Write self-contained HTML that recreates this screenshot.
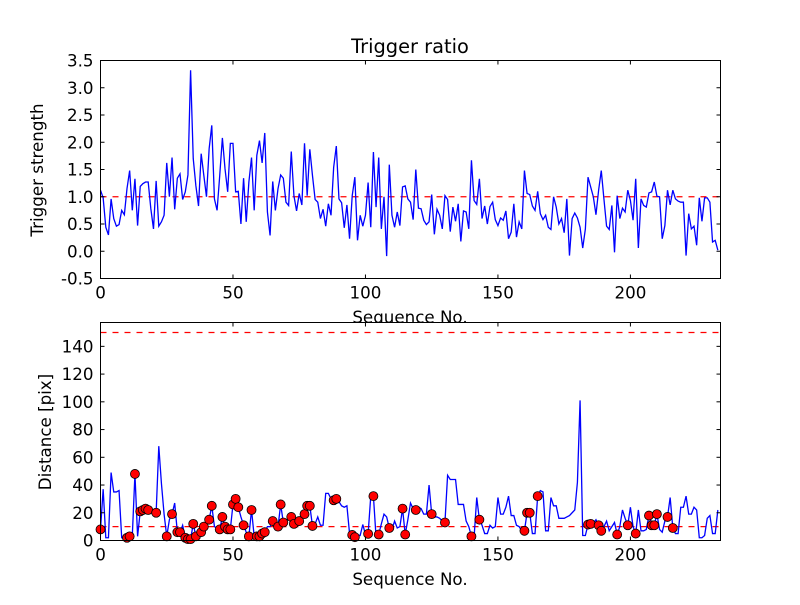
<!DOCTYPE html>
<html><head><meta charset="utf-8"><style>
body{margin:0;background:#fff;}
svg text{font-family:"DejaVu Sans","Liberation Sans",sans-serif;}
</style></head><body>
<svg id="chart" width="800" height="600" xmlns="http://www.w3.org/2000/svg"></svg>
<script>
const triggerStrength=[1.12,0.98,0.44,0.3,0.96,0.6,0.46,0.49,0.75,0.67,1.15,1.48,0.75,1.33,0.47,1.19,1.24,1.27,1.27,0.78,0.41,1.29,0.46,0.54,0.66,1.62,1.0,1.72,0.77,1.34,1.42,0.95,1.09,1.4,3.32,1.7,1.2,0.83,1.79,1.39,1.0,1.88,2.31,0.96,0.75,1.39,2.08,1.51,1.09,1.98,1.98,1.09,1.1,0.5,1.34,0.54,1.27,1.72,0.75,1.76,2.03,1.62,2.17,0.72,0.29,1.28,0.75,1.15,1.4,1.34,0.9,0.84,1.83,1.02,0.74,1.06,0.85,1.98,1.02,1.87,1.39,0.95,0.9,0.6,0.77,0.46,0.87,0.66,1.54,1.93,0.96,0.89,0.43,0.85,0.23,1.02,1.36,0.2,0.66,0.46,0.66,1.26,0.44,1.82,0.81,1.72,0.41,1.0,-0.09,1.59,0.66,0.44,0.72,0.47,1.18,1.2,0.96,0.9,0.58,1.5,0.79,0.78,0.57,0.49,0.54,1.04,0.31,0.77,0.66,0.41,1.02,0.95,0.36,0.81,0.55,0.87,0.18,0.74,0.72,0.41,1.67,0.93,0.86,1.33,0.6,0.83,0.5,0.82,0.9,0.58,0.47,0.61,0.57,0.74,0.23,0.35,0.87,0.26,0.54,0.41,1.48,1.06,1.04,0.83,0.75,1.1,0.69,0.58,0.66,0.44,0.4,1.0,0.81,0.5,0.6,0.34,0.96,-0.08,0.6,0.7,0.61,0.44,0.06,0.41,1.36,1.18,1.0,0.67,1.12,1.48,0.96,0.46,0.4,0.84,-0.02,1.02,0.6,0.79,0.72,1.12,0.93,0.57,1.33,0.06,0.96,0.84,0.81,1.07,1.09,1.27,1.01,1.0,0.23,0.47,1.12,0.85,1.12,0.96,0.92,0.9,0.9,-0.08,0.69,0.41,0.46,0.11,0.98,0.55,0.98,0.98,0.9,0.17,0.2,0.02];
const distance=[8,37,2,2,49,35,35,36,2,1,2,3,3,48,3,21,22,23,22,20,20,20,68,41,19,3,15,19,27,6,6,11,2,1,1,12,3,4,6,10,10,15,25,10,9,8,17,10,8,8,26,30,24,17,11,6,3,22,3,3,3,5,6,10,10,14,12,10,26,13,15,15,17,12,14,14,16,19,25,25,10.5,12,17,11,11,34,34,30,29,30,28,25,24,25,5,4,2.4,4,3.6,11.5,4.3,4.8,32,32,2.4,4.3,12,19,17,9,8,14,9,10,23,4.3,15,27,23,22,24,23,19,19,40,19,17,17,16,14,13,47,44,44,44,26,26,26,14,10,3,2.4,31,15,11,5,5,11,9,10,31,19,19,24,32,18,18,11,10,7,7,20,20,5,5,32,36,35,7,7,31,25,25,16,16,16,17,18,20,22,42,101,3.6,3.6,11.5,12,12.5,15,11,7,10,14,7,10,13,4.3,10,22,16,11,24,10,5,22,7,7,8,18,11,11,19,8,6,14,17,31,9,5,5,24,24,32,19,19,24,22,2,2,3.6,16,18,5,5,22];
const topYTicks=["-0.5","0.0","0.5","1.0","1.5","2.0","2.5","3.0","3.5"];
const bottomYTicks=["0","20","40","60","80","100","120","140"];
const xTicks=["0","50","100","150","200"];
const triggerThreshold=[1.0];
const distanceLimits=[10,150];

const NS="http://www.w3.org/2000/svg";
const svg=document.getElementById('chart');
function mk(tag,attrs,parent){const e=document.createElementNS(NS,tag);for(const k in attrs)e.setAttribute(k,attrs[k]);(parent||svg).appendChild(e);return e;}
const L=100.5,R=720.5,XMAX=234;
const xs=v=>L+(R-L)*v/XMAX;
const T1=60.5,B1=278.5,yTop=v=>B1-(B1-T1)*(v+0.5)/4.0;
const T2=322.5,B2=540.5,YM2=157.2,yBot=v=>B2-(B2-T2)*v/YM2;
const FS=16.7;

function axes(T,B,name){
  const g=mk('g',{},svg);
  
  
  mk('rect',{x:L,y:T,width:R-L,height:B-T,fill:'#fff'},g);
  return g;
}
function frame(g,T,B,yf,yt){
  mk('rect',{x:L,y:T,width:R-L,height:B-T,fill:'none',stroke:'#000','stroke-width':1},g);
  yt.forEach(t=>{const y=yf(parseFloat(t));
    mk('line',{x1:L,x2:L+4,y1:y,y2:y,stroke:'#000'},g);
    mk('line',{x1:R,x2:R-4,y1:y,y2:y,stroke:'#000'},g);
    const tx=mk('text',{x:L-7,y:y+6,'text-anchor':'end','font-size':FS},g);tx.textContent=t;
    
    
  });
  xTicks.forEach(t=>{const x=xs(parseFloat(t));
    mk('line',{x1:x,x2:x,y1:B,y2:B-4,stroke:'#000'},g);
    mk('line',{x1:x,x2:x,y1:T,y2:T+4,stroke:'#000'},g);
    const tx=mk('text',{x:x,y:B+20,'text-anchor':'middle','font-size':FS},g);tx.textContent=t;
    
    
  });
}
function path(arr,yf){return arr.map((v,i)=>(i?'L':'M')+xs(i).toFixed(2)+' '+yf(v).toFixed(2)).join(' ');}

// top
let t=mk('text',{x:410,y:323,'text-anchor':'middle','font-size':FS});t.textContent='Sequence No.';

const g1=axes(T1,B1,'trigger-strength-axes');
const thr=mk('line',{x1:L,x2:R,y1:yTop(triggerThreshold[0]),y2:yTop(triggerThreshold[0]),stroke:'#f00','stroke-dasharray':'6,6','stroke-width':1.2},g1);


const p1=mk('path',{d:path(triggerStrength,yTop),fill:'none',stroke:'#00f','stroke-width':1.3},g1);


frame(g1,T1,B1,yTop,topYTicks);
t=mk('text',{x:410,y:53,'text-anchor':'middle','font-size':19.4});t.textContent='Trigger ratio';

t=mk('text',{x:43,y:170,'text-anchor':'middle','font-size':FS,transform:'rotate(-90 43 170)'});t.textContent='Trigger strength';


// bottom
const g2=axes(T2,B2,'distance-axes');
distanceLimits.forEach(v=>{const l=mk('line',{x1:L,x2:R,y1:yBot(v),y2:yBot(v),stroke:'#f00','stroke-dasharray':'6,6','stroke-width':1.2},g2);
  
  });
const p2=mk('path',{d:path(distance,yBot),fill:'none',stroke:'#00f','stroke-width':1.3},g2);


distance.forEach((v,i)=>{if(triggerStrength[i]>triggerThreshold[0]){
  const c=mk('circle',{cx:xs(i),cy:yBot(v),r:4.5,fill:'#f00',stroke:'#000','stroke-width':0.8},g2);
  
  }});
frame(g2,T2,B2,yBot,bottomYTicks);
t=mk('text',{x:410,y:585,'text-anchor':'middle','font-size':FS});t.textContent='Sequence No.';

t=mk('text',{x:51,y:432,'text-anchor':'middle','font-size':FS,transform:'rotate(-90 51 432)'});t.textContent='Distance [pix]';

</script>
</body></html>
